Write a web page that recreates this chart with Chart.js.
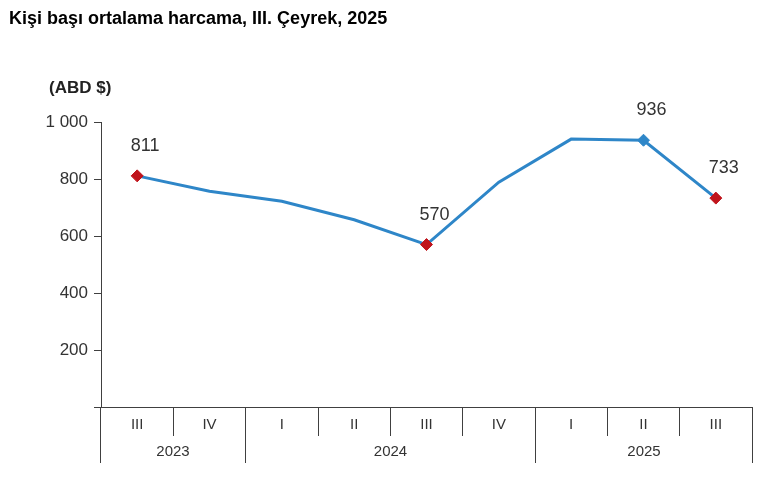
<!DOCTYPE html>
<html>
<head>
<meta charset="utf-8">
<script src="https://cdn.jsdelivr.net/npm/chart.js@4/dist/chart.umd.min.js"></script>
<style>
  body { margin: 0; background: #fff; }
  #wrap { width: 777px; height: 483px; position: relative; }
</style>
</head>
<body>
<div id="wrap"><canvas id="myChart"></canvas></div>
<script>
// data
const quarters = ["III", "IV", "I", "II", "III", "IV", "I", "II", "III"];
const years = ["2023", "2024", "2025"];
const quartersPerYear = [2, 4, 3];
const spending = [811, 757, 722, 657, 570, 789, 940, 936, 733];
const yTicks = [0, 200, 400, 600, 800, 1000];
const labelled = [0, 4, 7, 8];

const title = "Kişi başı ortalama harcama, III. Çeyrek, 2025";
const unit = "(ABD $)";

const axisColor = "#404040";
const lineBlue = "#2e86c8";
const red = "#c0141c";
const font = "'Liberation Sans', Arial, sans-serif";

function fmt(v) {
  return String(v).replace(/\B(?=(\d{3})+(?!\d))/g, " ");
}

function align(p) {
  return Math.round(p - 0.5) + 0.5;
}

// title, unit, value labels and year grouping under the x axis
const extras = {
  id: "extras",
  afterDraw(chart) {
    const { ctx, scales: { x } } = chart;
    const meta = chart.getDatasetMeta(0);
    ctx.save();

    ctx.fillStyle = "#000";
    ctx.textBaseline = "middle";
    ctx.textAlign = "left";
    ctx.font = "bold 18px " + font;
    ctx.fillText(title, 9, 19);
    ctx.font = "bold 17px " + font;
    ctx.fillStyle = "#222";
    ctx.fillText(unit, 49, 88);

    // value labels
    ctx.font = "18px " + font;
    ctx.fillStyle = "#333";
    ctx.textAlign = "center";
    labelled.forEach((i) => {
      const p = meta.data[i];
      ctx.fillText(String(spending[i]), p.x + 8, p.y - 30);
    });

    // year groups
    const half = (x.getPixelForValue(1) - x.getPixelForValue(0)) / 2;
    const top = x.top;
    const bottom = top + 56;
    ctx.strokeStyle = axisColor;
    ctx.lineWidth = 1;
    ctx.font = "15px " + font;
    ctx.fillStyle = "#333";
    let start = 0;
    years.forEach((yr, k) => {
      const end = start + quartersPerYear[k] - 1;
      const left = align(x.getPixelForValue(start) - half);
      const right = align(x.getPixelForValue(end) + half);
      ctx.beginPath();
      ctx.moveTo(left, top);
      ctx.lineTo(left, bottom);
      ctx.moveTo(right, top);
      ctx.lineTo(right, bottom);
      ctx.stroke();
      ctx.fillText(yr, (left + right) / 2, top + 45);
      start = end + 1;
    });
    ctx.restore();
  },
};

const ctx = document.getElementById("myChart");

new Chart(ctx, {
  type: "line",
  data: {
    labels: quarters,
    datasets: [
      {
        label: "Kişi başı ortalama harcama",
        data: spending,
        borderColor: lineBlue,
        borderWidth: 3,
        tension: 0,
        pointStyle: "rectRot",
        pointRadius: (c) => (labelled.includes(c.dataIndex) ? 6 : 0),
        pointHoverRadius: (c) => (labelled.includes(c.dataIndex) ? 6 : 0),
        pointBackgroundColor: (c) => (c.dataIndex === 7 ? lineBlue : red),
        pointBorderColor: (c) => (c.dataIndex === 7 ? lineBlue : red),
        pointBorderWidth: 1,
      },
    ],
  },
  options: {
    responsive: true,
    maintainAspectRatio: false,
    animation: false,
    layout: { padding: { left: 0, right: 25, top: 122, bottom: 0 } },
    plugins: {
      legend: { display: false },
      tooltip: { enabled: false },
    },
    scales: {
      x: {
        offset: true,
        border: { color: axisColor, width: 1 },
        grid: {
          offset: true,
          drawOnChartArea: false,
          tickLength: 29,
          color: axisColor,
        },
        ticks: {
          color: "#333",
          font: { size: 15, family: font },
          padding: -20,
          maxRotation: 0,
          autoSkip: false,
        },
        afterFit(s) {
          s.height = 76;
        },
      },
      y: {
        min: 0,
        max: 1000,
        afterBuildTicks(s) {
          s.ticks = yTicks.map((v) => ({ value: v }));
        },
        border: { color: axisColor, width: 1 },
        grid: {
          drawOnChartArea: false,
          tickLength: 7,
          color: axisColor,
        },
        ticks: {
          color: "#333",
          font: { size: 17, family: font },
          padding: 6,
          callback: (v) => (v === 0 ? "" : fmt(v)),
        },
        afterFit(s) {
          s.width = 101;
        },
      },
    },
  },
  plugins: [extras],
});
</script>
</body>
</html>
